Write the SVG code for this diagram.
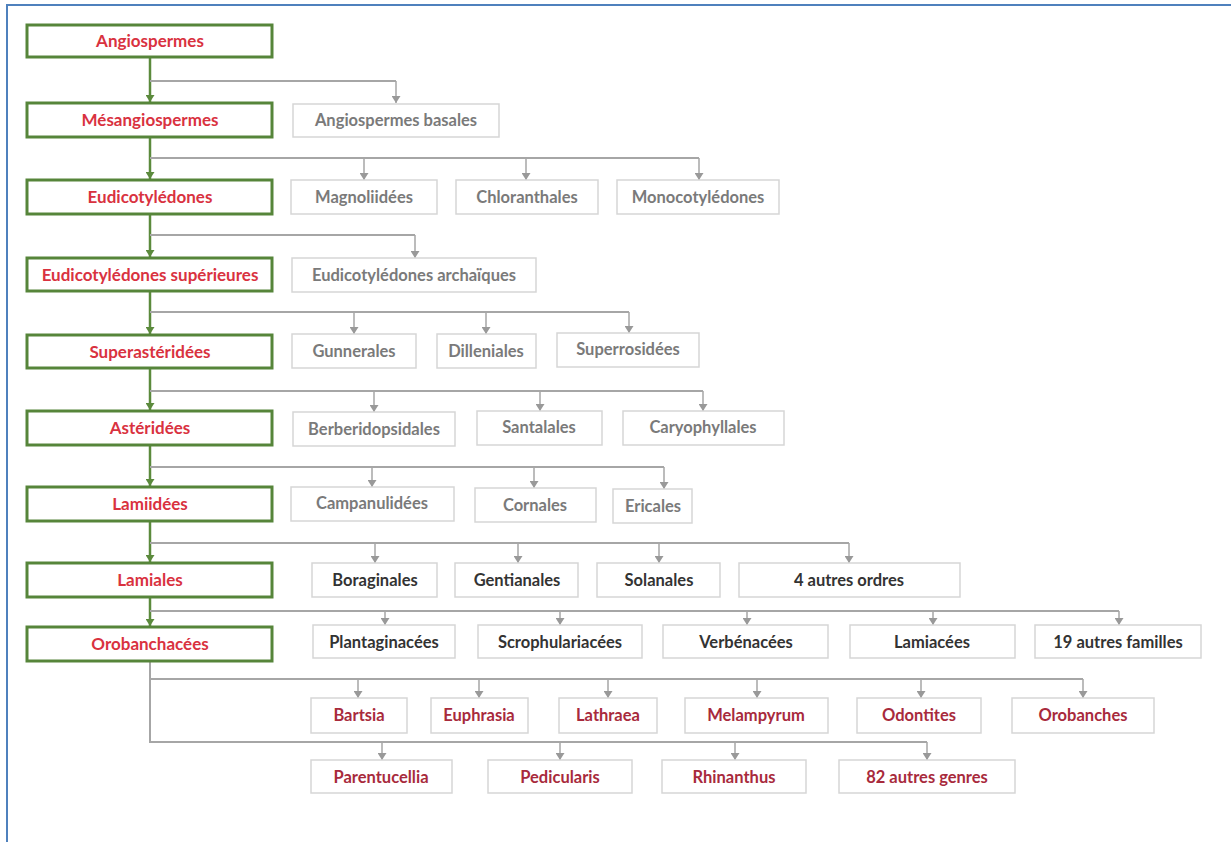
<svg xmlns="http://www.w3.org/2000/svg" width="1231" height="842" viewBox="0 0 1231 842">
<defs>
<marker id="ag" markerUnits="userSpaceOnUse" markerWidth="9" markerHeight="8" refX="4.5" refY="7" orient="0" viewBox="0 0 9 8"><path d="M0,0 L9,0 L4.5,7 z" fill="#999"/></marker>
<marker id="agr" markerUnits="userSpaceOnUse" markerWidth="9" markerHeight="8" refX="4.5" refY="7" orient="0" viewBox="0 0 9 8"><path d="M0,0 L9,0 L4.5,7 z" fill="#5b8a3c"/></marker>
<style>
.m rect{fill:#fff;stroke:#56853a;stroke-width:3}
.m text{fill:#d9323f;font-size:17px}
.s rect{fill:#fff;stroke:#d6d6d6;stroke-width:1.5}
.g text{fill:#7a7a7a}
.d text{fill:#333}
.r text{fill:#a82a3c}
text{font-family:Lato,"Open Sans","Liberation Sans",sans-serif;font-weight:bold;font-size:16.5px;text-anchor:middle}
.gl{fill:none;stroke:#a6a6a6;stroke-width:2}
.ga{fill:none;stroke:#a6a6a6;stroke-width:1.5;marker-end:url(#ag)}
.tr{fill:none;stroke:#5b8a3c;stroke-width:2.5;marker-end:url(#agr)}
</style>
</defs>
<rect width="1231" height="842" fill="#fff"/>
<path d="M7,842 V5 H1231" fill="none" stroke="#4f81bd" stroke-width="2"/>
<g id="connectors">
<path class="tr" d="M150,57 V102"/>
<path class="tr" d="M150,137 V179"/>
<path class="tr" d="M150,214 V257"/>
<path class="tr" d="M150,291 V334"/>
<path class="tr" d="M150,368 V410"/>
<path class="tr" d="M150,445 V486"/>
<path class="tr" d="M150,521 V562"/>
<path class="tr" d="M150,597 V626"/>
<path class="gl" d="M150,81 H396"/>
<path class="ga" d="M396,81 V103"/>
<path class="gl" d="M150,158 H699"/>
<path class="ga" d="M364,158 V180"/><path class="ga" d="M526,158 V180"/><path class="ga" d="M699,158 V180"/>
<path class="gl" d="M150,235 H415"/>
<path class="ga" d="M415,235 V258"/>
<path class="gl" d="M150,312 H629"/>
<path class="ga" d="M354,312 V334"/><path class="ga" d="M486,312 V334"/><path class="ga" d="M629,312 V333"/>
<path class="gl" d="M150,391 H703"/>
<path class="ga" d="M374,391 V412"/><path class="ga" d="M540,391 V411"/><path class="ga" d="M703,391 V411"/>
<path class="gl" d="M150,467 H664"/>
<path class="ga" d="M372,467 V487"/><path class="ga" d="M534,467 V488"/><path class="ga" d="M664,467 V489"/>
<path class="gl" d="M150,543 H849"/>
<path class="ga" d="M375,543 V563"/><path class="ga" d="M518,543 V563"/><path class="ga" d="M659,543 V563"/><path class="ga" d="M849,543 V563"/>
<path class="gl" d="M150,611 H1119"/>
<path class="ga" d="M385,611 V625"/><path class="ga" d="M560,611 V625"/><path class="ga" d="M747,611 V625"/><path class="ga" d="M933,611 V625"/><path class="ga" d="M1119,611 V625"/>
<path class="gl" d="M150,661 V742 H927"/>
<path class="gl" d="M150,679 H1083"/>
<path class="ga" d="M358,679 V698"/><path class="ga" d="M479,679 V698"/><path class="ga" d="M608,679 V698"/><path class="ga" d="M757,679 V698"/><path class="ga" d="M921,679 V698"/><path class="ga" d="M1083,679 V698"/>
<path class="ga" d="M382,742 V760"/><path class="ga" d="M560,742 V760"/><path class="ga" d="M735,742 V760"/><path class="ga" d="M927,742 V760"/>
</g>
<g id="n-angiospermes" class="m"><rect x="27" y="25" width="245" height="32"/><text x="150" y="47">Angiospermes</text></g>
<g id="n-mesangiospermes" class="m"><rect x="27" y="103" width="245" height="34"/><text x="150" y="126">Mésangiospermes</text></g>
<g id="n-eudicotyledones" class="m"><rect x="27" y="180" width="245" height="34"/><text x="150" y="203">Eudicotylédones</text></g>
<g id="n-eudicot-sup" class="m"><rect x="27" y="258" width="245" height="33"/><text x="150" y="281">Eudicotylédones supérieures</text></g>
<g id="n-superasterid" class="m"><rect x="27" y="335" width="245" height="33"/><text x="150" y="358">Superastéridées</text></g>
<g id="n-asterid" class="m"><rect x="27" y="411" width="245" height="34"/><text x="150" y="434">Astéridées</text></g>
<g id="n-lamiid" class="m"><rect x="27" y="487" width="245" height="34"/><text x="150" y="510">Lamiidées</text></g>
<g id="n-lamiales" class="m"><rect x="27" y="563" width="245" height="34"/><text x="150" y="586">Lamiales</text></g>
<g id="n-orobanchacees" class="m"><rect x="27" y="627" width="245" height="34"/><text x="150" y="650">Orobanchacées</text></g>

<g id="n-angio-basales" class="s g"><rect x="293" y="104" width="206" height="33"/><text x="396" y="126">Angiospermes basales</text></g>
<g id="n-magnoliidees" class="s g"><rect x="291" y="180" width="146" height="34"/><text x="364" y="203">Magnoliidées</text></g>
<g id="n-chloranthales" class="s g"><rect x="456" y="180" width="142" height="34"/><text x="527" y="203">Chloranthales</text></g>
<g id="n-monocot" class="s g"><rect x="617" y="180" width="162" height="34"/><text x="698" y="203">Monocotylédones</text></g>
<g id="n-eudicot-arch" class="s g"><rect x="292" y="258" width="244" height="34"/><text x="414" y="281">Eudicotylédones archaïques</text></g>
<g id="n-gunnerales" class="s g"><rect x="292" y="334" width="124" height="34"/><text x="354" y="357">Gunnerales</text></g>
<g id="n-dilleniales" class="s g"><rect x="437" y="334" width="99" height="34"/><text x="486" y="357">Dilleniales</text></g>
<g id="n-superrosidees" class="s g"><rect x="557" y="333" width="142" height="34"/><text x="628" y="355">Superrosidées</text></g>
<g id="n-berberidopsidales" class="s g"><rect x="293" y="412" width="162" height="34"/><text x="374" y="435">Berberidopsidales</text></g>
<g id="n-santalales" class="s g"><rect x="477" y="411" width="125" height="34"/><text x="539" y="433">Santalales</text></g>
<g id="n-caryophyllales" class="s g"><rect x="623" y="411" width="161" height="34"/><text x="703" y="433">Caryophyllales</text></g>
<g id="n-campanulidees" class="s g"><rect x="291" y="487" width="163" height="34"/><text x="372" y="509">Campanulidées</text></g>
<g id="n-cornales" class="s g"><rect x="475" y="488" width="121" height="34"/><text x="535" y="511">Cornales</text></g>
<g id="n-ericales" class="s g"><rect x="613" y="489" width="79" height="34"/><text x="653" y="512">Ericales</text></g>
<g id="n-boraginales" class="s d"><rect x="312" y="563" width="125" height="34"/><text x="375" y="586">Boraginales</text></g>
<g id="n-gentianales" class="s d"><rect x="455" y="563" width="123" height="34"/><text x="517" y="586">Gentianales</text></g>
<g id="n-solanales" class="s d"><rect x="597" y="563" width="123" height="34"/><text x="659" y="586">Solanales</text></g>
<g id="n-4autres" class="s d"><rect x="739" y="563" width="221" height="34"/><text x="849" y="586">4 autres ordres</text></g>
<g id="n-plantaginacees" class="s d"><rect x="313" y="625" width="142" height="33"/><text x="384" y="648">Plantaginacées</text></g>
<g id="n-scrophulariacees" class="s d"><rect x="478" y="625" width="164" height="33"/><text x="560" y="648">Scrophulariacées</text></g>
<g id="n-verbenacees" class="s d"><rect x="663" y="625" width="165" height="33"/><text x="746" y="648">Verbénacées</text></g>
<g id="n-lamiacees" class="s d"><rect x="850" y="625" width="165" height="33"/><text x="932" y="648">Lamiacées</text></g>
<g id="n-19autres" class="s d"><rect x="1035" y="625" width="166" height="33"/><text x="1118" y="648">19 autres familles</text></g>
<g id="n-bartsia" class="s r"><rect x="311" y="698" width="96" height="35"/><text x="359" y="721">Bartsia</text></g>
<g id="n-euphrasia" class="s r"><rect x="431" y="698" width="97" height="35"/><text x="479" y="721">Euphrasia</text></g>
<g id="n-lathraea" class="s r"><rect x="559" y="698" width="98" height="35"/><text x="608" y="721">Lathraea</text></g>
<g id="n-melampyrum" class="s r"><rect x="685" y="698" width="143" height="35"/><text x="756" y="721">Melampyrum</text></g>
<g id="n-odontites" class="s r"><rect x="857" y="698" width="124" height="35"/><text x="919" y="721">Odontites</text></g>
<g id="n-orobanches" class="s r"><rect x="1012" y="698" width="142" height="35"/><text x="1083" y="721">Orobanches</text></g>
<g id="n-parentucellia" class="s r"><rect x="311" y="760" width="141" height="33"/><text x="381" y="783">Parentucellia</text></g>
<g id="n-pedicularis" class="s r"><rect x="488" y="760" width="144" height="33"/><text x="560" y="783">Pedicularis</text></g>
<g id="n-rhinanthus" class="s r"><rect x="662" y="760" width="144" height="33"/><text x="734" y="783">Rhinanthus</text></g>
<g id="n-82autres" class="s r"><rect x="839" y="760" width="176" height="33"/><text x="927" y="783">82 autres genres</text></g>
</svg>
